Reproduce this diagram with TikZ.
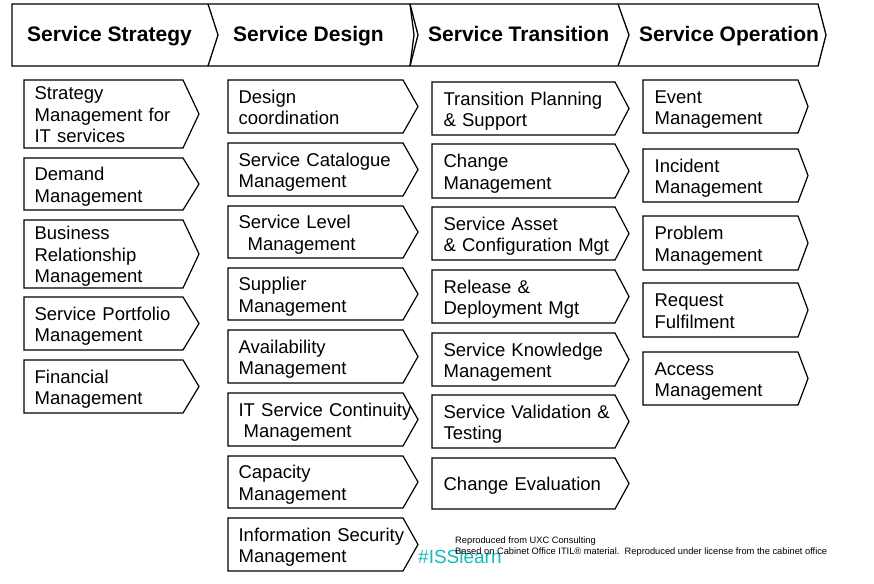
\documentclass[tikz,border=0pt]{standalone}
\usepackage{fontspec}
\setmainfont{Liberation Sans}
\usepackage{xcolor}
\usepackage{tikz}
\definecolor{hashteal}{RGB}{25,185,185}
\tikzset{
  phaseline/.style = {draw=black, line width=1.3pt, line join=miter},
  stagebox/.style = {draw=black, line width=1.2pt, line join=miter},
  phasetext/.style = {anchor=base west, inner sep=0pt,
    font=\fontsize{21}{24}\selectfont\bfseries},
  steptext/.style = {anchor=west, inner sep=0pt, align=left, text width=190pt,
    font=\fontsize{18.5}{21.5}\selectfont,
    execute at begin node=\strut, execute at end node=\strut},% text centred on the caps
  notetext/.style = {anchor=base west, inner sep=0pt, align=left,
    font=\fontsize{9.3}{11}\selectfont}
}

\begin{document}
\begin{tikzpicture}[x=1pt, y=-1pt]
	\useasboundingbox (0,0) rectangle (874,583);
	% lifecycle header
	\draw[phaseline] (12,4) -- (818,4) -- (826,35) -- (818,66) -- (12,66) -- cycle;
	\draw[phaseline] (208,4) -- (218,35) -- (208,66);
	\draw[phaseline] (410,4) -- (414,35) -- (410,66);
	\draw[phaseline] (410,4) -- (418,35) -- (410,66);
	\draw[phaseline] (618,4) -- (629,35) -- (618,66);
	\node[phasetext] (strategy) at (27,42) {Service Strategy};
	\node[phasetext] (design) at (233,42) {Service Design};
	\node[phasetext] (transition) at (428,42) {Service Transition};
	\node[phasetext] (operation) at (639,42) {Service Operation};
	% Service Strategy processes
	\foreach \ya/\yb/\lbl [count=\i] in {80/148/{Strategy\\Management for\\IT services},
	    158/210/{Demand\\Management}, 220/288/{Business\\Relationship\\Management},
	    297/350/{Service Portfolio\\Management}, 360/413/{Financial\\Management}}
	  \draw[stagebox] (24,\ya) -- (183,\ya) -- (199,{(\ya+\yb)/2}) -- (183,\yb) -- (24,\yb) -- cycle
	    node[steptext] (ss\i) at (34,{(\ya+\yb)/2+3}) {\lbl};
	% Service Design processes
	\foreach \ya/\yb/\lbl [count=\i] in {80/133/{Design\\coordination},
	    143/196/{Service Catalogue\\Management}, 206/258/{Service Level\\\hspace*{9pt}Management},
	    268/320/{Supplier\\Management}, 330/383/{Availability\\Management},
	    393/446/{IT Service Continuity\\\hspace*{5pt}Management}, 456/508/{Capacity\\Management},
	    518/571/{Information Security\\Management}}
	  \draw[stagebox] (228,\ya) -- (403,\ya) -- (418,{(\ya+\yb)/2}) -- (403,\yb) -- (228,\yb) -- cycle
	    node[steptext] (sd\i) at (238,{(\ya+\yb)/2+3}) {\lbl};
	% Service Transition processes
	\foreach \ya/\yb/\lbl [count=\i] in {82/135/{Transition Planning\\\& Support},
	    144/198/{Change\\Management}, 207/260/{Service Asset\\\& Configuration Mgt},
	    270/323/{Release \&\\Deployment Mgt}, 333/386/{Service Knowledge\\Management},
	    395/448/{Service Validation \&\\Testing}, 458/509/{Change Evaluation}}
	  \draw[stagebox] (432,\ya) -- (615,\ya) -- (629,{(\ya+\yb)/2}) -- (615,\yb) -- (432,\yb) -- cycle
	    node[steptext] (st\i) at (443,{(\ya+\yb)/2+3}) {\lbl};
	% Service Operation processes
	\foreach \ya/\yb/\lbl [count=\i] in {80/133/{Event\\Management},
	    149/202/{Incident\\Management}, 216/270/{Problem\\Management},
	    283/337/{Request\\Fulfilment}, 352/405/{Access\\Management}}
	  \draw[stagebox] (643,\ya) -- (798,\ya) -- (808,{(\ya+\yb)/2}) -- (798,\yb) -- (643,\yb) -- cycle
	    node[steptext] (so\i) at (654,{(\ya+\yb)/2+3}) {\lbl};
	% credits
	\node[anchor=base west, inner sep=0pt, text=hashteal,
	  font=\fontsize{19}{22}\selectfont] (hashtag) at (418,563) {\#ISSlearn};
	\node[notetext] (source) at (455,543) {Reproduced from UXC Consulting};
	\node[notetext] (licence) at (455,554)
	  {Based on Cabinet Office ITIL® material.\ \ Reproduced under license from the cabinet office};
\end{tikzpicture}
\end{document}
